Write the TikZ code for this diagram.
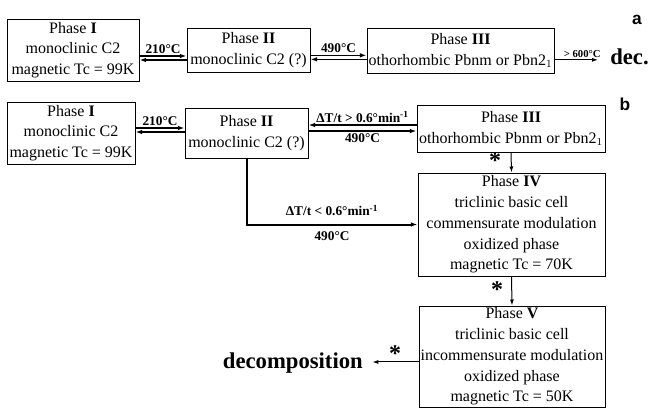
\documentclass[tikz,border=0pt]{standalone}
\usepackage{fontspec}
\setmainfont{Liberation Serif}
\setsansfont{Liberation Sans}
\usetikzlibrary{arrows.meta}

\begin{document}
\begin{tikzpicture}[x=0.75pt,y=-0.75pt,>={Latex[length=5pt,width=3.5pt]},
  phase/.style={draw,line width=0.75pt,align=center,inner sep=0pt,
    font=\fontsize{12}{15.6}\selectfont},
  pair/.style={line width=1.1pt},
  heavy/.style={line width=1.5pt},
  plain/.style={line width=0.75pt,>={Latex[length=4.5pt,width=3pt]}},
  lbl/.style={font=\bfseries\fontsize{10}{12}\selectfont,inner sep=1.5pt},
  big/.style={font=\bfseries\fontsize{17}{20}\selectfont,inner sep=0pt},
  star/.style={font=\bfseries\fontsize{18}{20}\selectfont,inner sep=0pt},
  panel/.style={font=\sffamily\bfseries\fontsize{13}{15}\selectfont,inner sep=0pt}]
\useasboundingbox (0,0) rectangle (648,408);
% (a)
\node[phase,minimum width=99pt,minimum height=46.5pt] (aI) at (73,50)
  {Phase \textbf{I}\\monoclinic C2\\magnetic Tc = 99K};
\node[phase,minimum width=92.25pt,minimum height=33pt] (aII) at (248.5,50)
  {Phase \textbf{II}\\monoclinic C2 (?)};
\node[phase,minimum width=140.25pt,minimum height=33.75pt] (aIII) at (460.5,50.5)
  {Phase \textbf{III}\\othorhombic Pbnm or Pbn2$_1$};
\node[big,anchor=base west] (dec) at (610,64) {dec.};
\node[panel] (pa) at (637,19.5) {a};
\draw[pair,->] ([yshift=-4.5pt]aI.east) -- ([yshift=-4.5pt]aII.west)
  node[lbl,midway,above] (ta1) {210°C};
\draw[pair,<-] ([yshift=-7.5pt]aI.east) -- ([yshift=-7.5pt]aII.west);
\draw[pair,->] ([yshift=-4pt]aII.east) -- ([yshift=-4pt]aII.east -| aIII.west)
  node[lbl,midway,above] (ta2) {490°C};
\draw[pair,<-] ([yshift=-7pt]aII.east) -- ([yshift=-7pt]aII.east -| aIII.west);
\draw[plain,->,shorten >=9pt] ([yshift=-7pt]aIII.east) -- ([yshift=-7pt]aIII.east -| dec.west)
  node[lbl,midway,above,font=\bfseries\fontsize{8}{10}\selectfont] (ta3) {> 600°C};
% (b)
\node[phase,minimum width=96pt,minimum height=46.5pt] (bI) at (71,133)
  {Phase \textbf{I}\\monoclinic C2\\magnetic Tc = 99K};
\node[phase,minimum width=92.25pt,minimum height=37.5pt] (bII) at (246.5,133)
  {Phase \textbf{II}\\monoclinic C2 (?)};
\node[phase,minimum width=141pt,minimum height=35.25pt] (bIII) at (511,128.5)
  {Phase \textbf{III}\\othorhombic Pbnm or Pbn2$_1$};
\node[phase,minimum width=140.25pt,minimum height=77.25pt] (bIV) at (511.5,224.5)
  {Phase \textbf{IV}\\triclinic basic cell\\commensurate modulation\\oxidized phase\\magnetic Tc = 70K};
\node[phase,minimum width=139.5pt,minimum height=75.75pt] (bV) at (512,356.5)
  {Phase \textbf{V}\\triclinic basic cell\\incommensurate modulation\\oxidized phase\\magnetic Tc = 50K};
\node[big,anchor=base east] (dcmp) at (363,368) {decomposition};
\node[panel] (pb) at (625,104.5) {b};
\draw[pair,->] ([yshift=3.75pt]bI.east) -- ([yshift=3.75pt]bII.west)
  node[lbl,midway,above] (tb1) {210°C};
\draw[pair,<-] ([yshift=0.75pt]bI.east) -- ([yshift=0.75pt]bII.west);
\draw[pair,<-] ([yshift=6pt]bII.east) -- ([yshift=6pt]bII.east -| bIII.west)
  node[lbl,midway,above] (tb2) {ΔT/t > 0.6°min\textsuperscript{-1}};
\draw[pair,->] ([yshift=1.5pt]bII.east) -- ([yshift=1.5pt]bII.east -| bIII.west)
  node[lbl,midway,below] (tb3) {490°C};
\draw[heavy,->] (bII.south) |- (bIV.west)
  node[lbl,pos=0.75,above=4pt] (tb4) {ΔT/t < 0.6°min\textsuperscript{-1}}
  node[lbl,pos=0.75,below=3pt] (tb5) {490°C};
\draw[plain,->] (bIII.south) -- (bIV.north);
\draw[plain,->] (bIV.south) -- (bV.north);
\draw[plain,->,shorten >=7pt] ([yshift=-4.1pt]bV.west) -- ([yshift=-4.1pt]bV.west -| dcmp.east);
\node[star] (s1) at (495,161) {*};
\node[star] (s2) at (497,290) {*};
\node[star] (s3) at (395,354) {*};
\end{tikzpicture}
\end{document}
